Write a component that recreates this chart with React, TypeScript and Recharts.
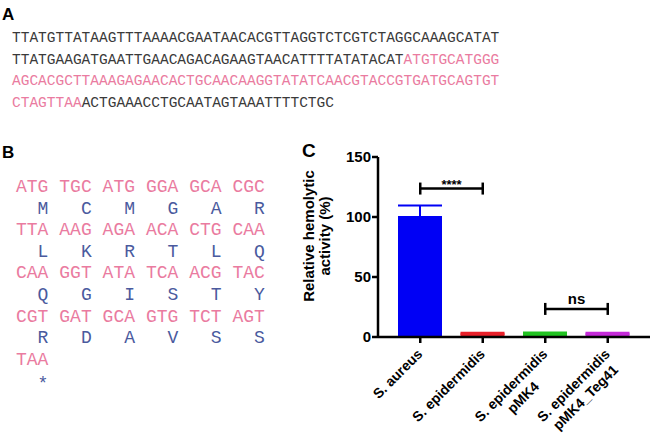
import React from 'react';
import { BarChart, Bar, XAxis, YAxis, ErrorBar, ReferenceLine } from 'recharts';

// ---------- Panel A data ----------
const seqLines: { text: string; orf: boolean }[][] = [
  [{ text: 'TTATGTTATAAGTTTAAAACGAATAACACGTTAGGTCTCGTCTAGGCAAAGCATAT', orf: false }],
  [
    { text: 'TTATGAAGATGAATTGAACAGACAGAAGTAACATTTTATATACAT', orf: false },
    { text: 'ATGTGCATGGG', orf: true },
  ],
  [{ text: 'AGCACGCTTAAAGAGAACACTGCAACAAGGTATATCAACGTACCGTGATGCAGTGT', orf: true }],
  [
    { text: 'CTAGTTAA', orf: true },
    { text: 'ACTGAAACCTGCAATAGTAAATTTTCTGC', orf: false },
  ],
];

// ---------- Panel B data ----------
const codonRows = [
  ['ATG', 'TGC', 'ATG', 'GGA', 'GCA', 'CGC'],
  ['TTA', 'AAG', 'AGA', 'ACA', 'CTG', 'CAA'],
  ['CAA', 'GGT', 'ATA', 'TCA', 'ACG', 'TAC'],
  ['CGT', 'GAT', 'GCA', 'GTG', 'TCT', 'AGT'],
  ['TAA'],
];
const aminoRows = [
  ['M', 'C', 'M', 'G', 'A', 'R'],
  ['L', 'K', 'R', 'T', 'L', 'Q'],
  ['Q', 'G', 'I', 'S', 'T', 'Y'],
  ['R', 'D', 'A', 'V', 'S', 'S'],
  ['*'],
];

// ---------- Panel C data ----------
const categories = ['S. aureus', 'S. epidermidis', 'S. epidermidis\npMK4', 'S. epidermidis\npMK4_Teg41'];
const means = [100, 2.6, 2.7, 2.6];
const errUpper = [9.5, 0.9, 1.0, 1.0];
const yTicks = [0, 50, 100, 150];
const sigBrackets = [
  { from: 0, to: 1, y: 123.7, text: '****' },
  { from: 2, to: 3, y: 23.4, text: 'ns' },
];
const bracketCap = 5;

const barColors = ['#0000f5', '#e8202a', '#22c322', '#c42ad8'];
const PINK = '#ea7ba0';
const DARK = '#3a3a3a';
const BLUE = '#4a5a9e';
const SANS = '"Liberation Sans", Arial, sans-serif';
const MONO = '"Liberation Mono", "Courier New", monospace';

const tableData = categories.map((name, i) => {
  const row: Record<string, any> = { name };
  row[`v${i}`] = means[i];
  row[`e${i}`] = [0, errUpper[i]];
  return row;
});

const boldW: Record<string, number> = {
  S: 0.667, '.': 0.278, ' ': 0.278, a: 0.556, u: 0.611, r: 0.389, e: 0.556, p: 0.611, i: 0.278,
  d: 0.611, m: 0.889, s: 0.556, M: 0.833, K: 0.722, '4': 0.556, _: 0.556, T: 0.611, g: 0.611, '1': 0.556,
};
const textW = (t: string, fs: number) => t.split('').reduce((a, c) => a + (boldW[c] ?? 0.6), 0) * fs;

const X_FS = 14;
const XTick = (props: any) => {
  const { x, y, payload } = props;
  const lines = String(payload.value).split('\n');
  const w1 = textW(lines[0], X_FS);
  return (
    <g transform={`translate(${x + 3},${y + 10}) rotate(-45)`}>
      <text fontSize={X_FS} fontWeight="bold" fill="#000" fontFamily={SANS} textAnchor="middle">
        {lines.map((l, i) => (
          <tspan key={i} x={-w1 / 2} y={i * 17}>
            {l}
          </tspan>
        ))}
      </text>
    </g>
  );
};

export default function App() {
  return (
    <div style={{ position: 'absolute', left: 0, top: 0, width: 650, height: 443, background: '#fff' }}>
      <div style={{ position: 'absolute', left: 0, top: 0 }}>
        <BarChart
          width={650}
          height={443}
          data={tableData}
          margin={{ top: 157, right: 0, left: 0, bottom: 6 }}
        >
          <XAxis
            dataKey="name"
            type="category"
            height={100}
            padding={{ left: 11, right: 11 }}
            axisLine={{ stroke: '#000', strokeWidth: 2.5 }}
            tickLine={{ stroke: '#000', strokeWidth: 2.5 }}
            tickSize={6}
            tickMargin={2}
            interval={0}
            tick={<XTick />}
          />
          <YAxis
            width={378}
            domain={[0, 150]}
            ticks={yTicks}
            allowDataOverflow
            axisLine={{ stroke: '#000', strokeWidth: 2.5 }}
            tickLine={{ stroke: '#000', strokeWidth: 2.5 }}
            tickSize={6}
            tickMargin={1}
            tick={{ fill: '#000', fontSize: 15, fontWeight: 'bold', fontFamily: SANS }}
          />
          {categories.map((_, i) => (
            <Bar key={i} dataKey={`v${i}`} stackId="a" fill={barColors[i]} barSize={44} isAnimationActive={false}>
              <ErrorBar dataKey={`e${i}`} width={22} stroke={barColors[i]} strokeWidth={2} direction="y" />
            </Bar>
          ))}
          {sigBrackets.map((b, k) => (
            <ReferenceLine
              key={`h${k}`}
              segment={[
                { x: categories[b.from], y: b.y },
                { x: categories[b.to], y: b.y },
              ]}
              stroke="#000"
              strokeWidth={2.5}
              label={{
                value: b.text,
                position: 'top',
                offset: b.text === 'ns' ? 5 : 0,
                fill: '#000',
                fontSize: b.text === 'ns' ? 15 : 13,
                fontWeight: 'bold',
                fontFamily: SANS,
              }}
            />
          ))}
          {sigBrackets.flatMap((b, k) =>
            [b.from, b.to].map((c, j) => (
              <ReferenceLine
                key={`v${k}-${j}`}
                segment={[
                  { x: categories[c], y: b.y - bracketCap },
                  { x: categories[c], y: b.y + bracketCap },
                ]}
                stroke="#000"
                strokeWidth={2.5}
              />
            ))
          )}
        </BarChart>
      </div>
      <svg
        width={650}
        height={443}
        style={{ position: 'absolute', left: 0, top: 0, pointerEvents: 'none' }}
      >
        {/* Panel labels */}
        <text x={2} y={20} fontSize={17} fontWeight="bold" fontFamily={SANS} fill="#000">A</text>
        <text x={2} y={158} fontSize={17} fontWeight="bold" fontFamily={SANS} fill="#000">B</text>
        <text x={302} y={157} fontSize={19} fontWeight="bold" fontFamily={SANS} fill="#000">C</text>

        {/* Panel A sequence */}
        {seqLines.map((segs, r) => (
          <text key={r} x={12} y={42 + r * 21.5} fontSize={14.5} fontFamily={MONO}>
            {segs.map((s, j) => (
              <tspan key={j} fill={s.orf ? PINK : DARK}>
                {s.text}
              </tspan>
            ))}
          </text>
        ))}

        {/* Panel B codons and amino acids */}
        {codonRows.map((row, r) => (
          <g key={r}>
            {row.map((c, j) => (
              <text key={`c${j}`} x={16 + j * 43.3} y={192 + r * 43.2} fontSize={18} fontFamily={MONO} fill={PINK}>
                {c}
              </text>
            ))}
            {aminoRows[r].map((a, j) => (
              <text
                key={`a${j}`}
                x={16 + j * 43.3 + 2 * 10.8}
                y={213.6 + r * 43.2 + (a === '*' ? 3 : 0)}
                fontSize={18}
                fontFamily={MONO}
                fill={BLUE}
              >
                {a}
              </text>
            ))}
          </g>
        ))}

        {/* Y axis title */}
        <g transform="translate(314,236) rotate(-90)">
          <text textAnchor="middle" fontSize={15} fontWeight="bold" fontFamily={SANS} fill="#000">
            <tspan x={0} y={0}>Relative hemolytic</tspan>
            <tspan x={0} y={15.5}>activity (%)</tspan>
          </text>
        </g>
      </svg>
    </div>
  );
}
